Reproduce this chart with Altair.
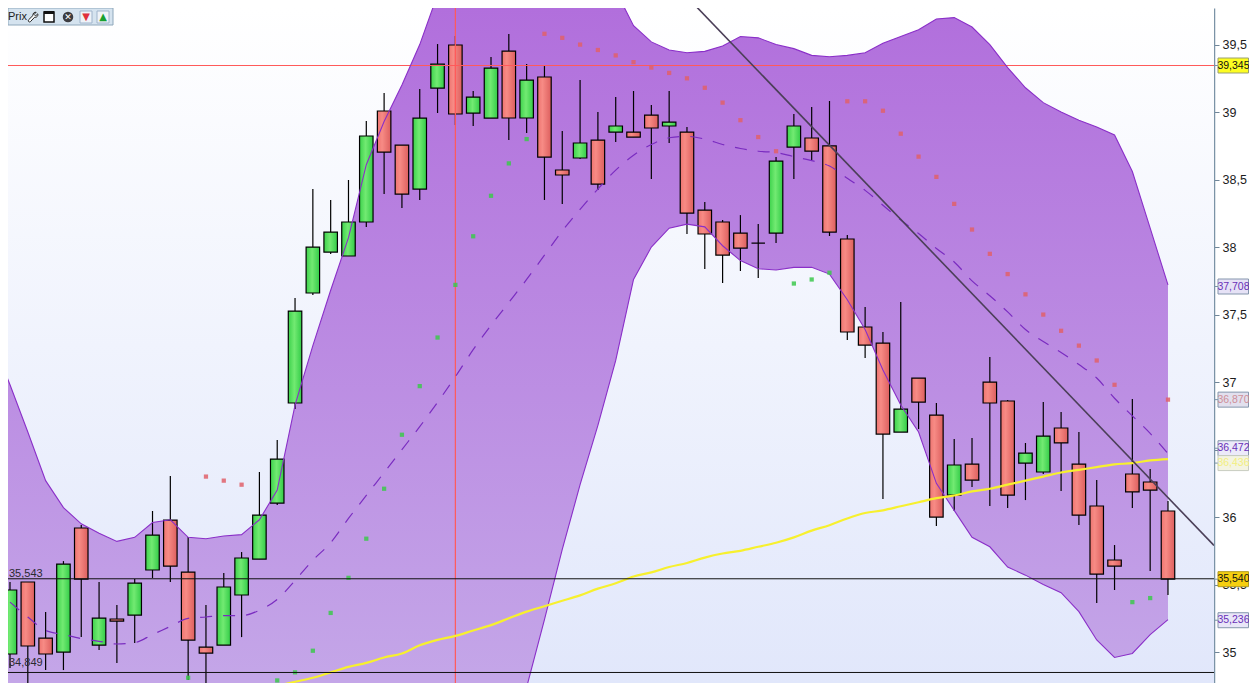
import altair as alt
import pandas as pd

# ---------- candles (66 sessions) ----------
opens = [34.986,35.519,35.104,35.000,35.919,35.052,35.245,35.274,35.608,35.978,35.593,35.037,35.052,35.423,35.689,36.104,36.845,37.660,37.963,37.934,38.186,39.008,38.756,38.430,39.178,39.497,38.993,38.956,39.452,38.956,39.260,38.571,38.660,38.793,38.852,38.852,38.978,38.897,38.852,38.274,38.186,38.104,38.030,38.104,38.741,38.808,38.749,38.060,37.408,37.289,36.630,37.030,36.756,36.163,36.393,37.000,36.860,36.400,36.334,36.660,36.393,36.082,35.682,36.319,36.260,36.045]
closes = [35.460,35.045,34.986,35.652,35.541,35.252,35.230,35.511,35.867,35.637,35.089,34.993,35.482,35.697,36.015,36.430,37.526,38.000,38.111,38.186,38.823,38.704,38.393,38.956,39.356,38.986,39.111,39.326,38.956,39.237,38.667,38.534,38.771,38.467,38.897,38.815,38.882,38.926,38.252,38.097,37.941,37.993,38.030,38.637,38.897,38.711,38.111,37.371,37.274,36.615,36.800,36.852,36.000,36.386,36.274,36.845,36.163,36.474,36.600,36.549,36.015,35.578,35.637,36.186,36.200,35.541]
highs = [35.519,35.519,35.297,35.674,35.941,35.519,35.349,35.541,36.045,36.304,35.852,35.349,35.586,35.741,36.334,36.571,37.623,38.430,38.349,38.497,38.934,39.141,38.756,39.171,39.504,39.563,39.156,39.408,39.578,39.356,39.341,38.860,39.237,39.000,39.111,39.156,39.052,39.156,38.889,38.334,38.200,38.237,38.171,38.667,38.986,39.037,39.082,38.089,37.556,37.371,37.593,37.030,36.845,36.578,36.586,37.186,36.867,36.549,36.852,36.778,36.630,36.274,35.793,36.874,36.356,36.119]
lows = [34.882,34.719,34.867,34.867,35.111,35.015,34.919,35.067,35.549,35.519,34.793,34.682,35.052,35.111,35.689,36.089,36.800,37.645,37.949,37.934,38.149,38.393,38.289,38.349,38.993,38.904,38.897,38.956,38.793,38.845,38.349,38.319,38.652,38.423,38.778,38.815,38.504,38.771,38.097,37.837,37.734,37.823,37.771,38.030,38.504,38.645,38.082,37.311,37.178,36.134,36.630,36.652,35.934,36.045,36.223,36.082,36.067,36.126,36.319,36.193,35.941,35.363,35.460,36.067,35.600,35.423]

# ---------- Bollinger bands, from session -1 to 65 ----------
upper = [37.31,36.98,36.63,36.27,36.07,35.95,35.88,35.82,35.85,35.96,35.98,35.85,35.84,35.86,35.87,35.98,36.20,36.83,37.27,37.68,38.07,38.61,38.93,39.20,39.50,39.87,40.27,40.50,40.64,40.72,40.72,40.64,40.53,40.35,40.13,39.90,39.64,39.52,39.46,39.44,39.45,39.49,39.56,39.55,39.50,39.47,39.42,39.41,39.42,39.44,39.51,39.56,39.61,39.69,39.70,39.63,39.50,39.33,39.18,39.07,39.00,38.94,38.89,38.83,38.56,38.14,37.72]
lower = [34.40,34.42,34.44,34.45,34.43,34.40,34.38,34.36,34.38,34.40,34.42,34.40,34.38,34.35,34.32,34.30,34.25,34.20,34.00,33.80,33.60,33.50,33.40,33.40,33.50,33.60,33.70,33.80,34.00,34.30,34.74,35.24,35.76,36.24,36.68,37.16,37.76,38.00,38.14,38.17,38.15,38.01,37.90,37.84,37.83,37.85,37.85,37.80,37.61,37.39,37.09,36.83,36.63,36.25,36.05,35.85,35.78,35.63,35.57,35.50,35.44,35.30,35.09,34.96,34.99,35.13,35.24]
middle = [35.37,35.26,35.16,35.13,35.10,35.08,35.06,35.07,35.13,35.19,35.25,35.26,35.27,35.27,35.31,35.39,35.53,35.68,35.81,35.99,36.16,36.33,36.50,36.67,36.85,37.04,37.24,37.42,37.59,37.76,37.94,38.12,38.28,38.43,38.57,38.68,38.76,38.81,38.82,38.80,38.76,38.73,38.71,38.70,38.67,38.64,38.60,38.51,38.42,38.31,38.20,38.10,37.99,37.89,37.75,37.64,37.52,37.39,37.30,37.22,37.13,37.03,36.88,36.75,36.62,36.47]

# ---------- long moving average, from session 15 to 65 ----------
ma_long = [34.75,34.78,34.81,34.85,34.89,34.92,34.96,34.99,35.05,35.09,35.12,35.16,35.20,35.25,35.30,35.34,35.38,35.42,35.47,35.51,35.56,35.59,35.63,35.66,35.70,35.73,35.75,35.78,35.81,35.85,35.90,35.94,35.99,36.03,36.05,36.08,36.11,36.14,36.16,36.19,36.21,36.24,36.27,36.30,36.33,36.35,36.37,36.39,36.40,36.42,36.43]

# ---------- parabolic SAR ----------
sar_red_i = [11,12,13,30,31,32,33,34,35,36,37,38,39,40,41,42,43,47,48,49,50,51,52,53,54,55,56,57,58,59,60,61,62,65]
sar_red_v = [36.30,36.27,36.24,39.58,39.55,39.50,39.46,39.42,39.37,39.33,39.29,39.25,39.18,39.07,38.94,38.815,38.71,39.08,39.08,39.01,38.84,38.67,38.52,38.32,38.13,37.95,37.80,37.65,37.50,37.38,37.27,37.16,36.98,36.87]
sar_green_i = [10,15,16,17,18,19,20,21,22,23,24,25,26,27,28,29,44,45,46,63,64]
sar_green_v = [34.81,34.79,34.85,35.01,35.29,35.55,35.84,36.21,36.61,36.97,37.33,37.72,38.08,38.38,38.62,38.80,37.73,37.76,37.81,35.37,35.40]

# ---------- trend line, levels, cursor, tags ----------
trend_i = [38.17, 67.58]
trend_v = [39.83, 35.79]
levels = [35.543, 34.849]
level_labels = ["35,543", "34,849"]
level_label_pos = [35.58, 34.92]
cursor_price = [39.345]
cursor_session = [25]
axis_ticks = [35, 35.5, 36, 36.5, 37, 37.5, 38, 38.5, 39, 39.5]
tag_text = ["39,345", "37,708", "36,870", "36,472", "36,436", "35,540", "35,236"]
tag_pos = [39.345, 37.708, 36.870, 36.51, 36.40, 35.540, 35.236]
tag_fill = ["#fdfd22", "#e6e2f6", "#e2e0ee", "#eceaf9", "#f4f4e2", "#f6cf10", "#e9e6f8"]
tag_stroke = ["#9aa070", "#8596ad", "#8596ad", "#8596ad", "#c8ccc0", "#b09a20", "#8596ad"]
tag_color = ["#111111", "#6a30b8", "#cf8f98", "#6a30b8", "#f3ef80", "#111111", "#6a30b8"]

W, H = 1206, 675
X_DOM = [-0.112, 67.583]
Y_DOM = [34.771, 39.771]
xs = alt.Scale(domain=X_DOM, nice=False, zero=False, padding=0)
ys = alt.Scale(domain=Y_DOM, nice=False, zero=False, padding=0)
FONT = "Liberation Sans"

AX = alt.Axis(
    orient="right", values=axis_ticks, title=None, grid=False,
    labelExpr="datum.value === 36.5 ? '' : replace(replace(format(datum.value, '.1f'), '.0', ''), '.', ',')",
    labelFont=FONT, labelFontSize=12.5, labelColor="#1c1c1c", labelPadding=3,
    tickColor="#6f8598", tickSize=5, tickWidth=1, domainColor="#7b93a6", domainWidth=1.5)


def X(f="i"):
    return alt.X(f"{f}:Q", scale=xs, axis=None)


def Y(f="v"):
    return alt.Y(f"{f}:Q", scale=ys, axis=AX)


def grad_v(stops):
    return alt.Gradient(gradient="linear", x1=0, x2=0, y1=0, y2=1,
                        stops=[alt.GradientStop(offset=o, color=c) for o, c in stops])


def grad_h(stops):
    return alt.Gradient(gradient="linear", x1=0, x2=1, y1=0, y2=0,
                        stops=[alt.GradientStop(offset=o, color=c) for o, c in stops])


candles = pd.DataFrame({"i": range(66), "o": opens, "h": highs, "l": lows, "c": closes})
candles["top"] = candles[["o", "c"]].max(axis=1)
candles["bot"] = candles[["o", "c"]].min(axis=1)
up = candles[candles.c >= candles.o]
down = candles[candles.c < candles.o]
band = pd.DataFrame({"i": range(-1, 66), "u": upper, "l": lower})
mid = pd.DataFrame({"i": range(66), "v": middle})
ma = pd.DataFrame({"i": range(15, 66), "v": ma_long})
sar_r = pd.DataFrame({"i": sar_red_i, "v": sar_red_v})
sar_g = pd.DataFrame({"i": sar_green_i, "v": sar_green_v})
trend = pd.DataFrame({"i": trend_i, "v": trend_v})
lev = pd.DataFrame({"v": levels})
lev_txt = pd.DataFrame({"v": level_label_pos, "t": level_labels})
tags = pd.DataFrame({"v": tag_pos, "t": tag_text, "f": tag_fill, "s": tag_stroke, "c": tag_color})
one = pd.DataFrame({"a": [0]})

# background of the plot
bg = alt.Chart(pd.DataFrame({"a": [X_DOM[0]], "b": [X_DOM[1]], "c": [Y_DOM[0]], "d": [Y_DOM[1]]})).mark_rect(
    color=grad_v([(0, "#ffffff"), (0.5, "#f0f3fd"), (1, "#e1e7fb")])
).encode(x=X("a"), x2="b:Q", y=Y("c"), y2="d:Q")

band_fill = alt.Chart(band).mark_area(
    clip=True, color=grad_v([(0.12, "#b16edc"), (0.81, "#c4a6e8")])
).encode(x=X(), y=Y("u"), y2="l:Q")

wicks = alt.Chart(candles).mark_rule(color="#000000", strokeWidth=1.2, clip=True).encode(x=X(), y=Y("l"), y2="h:Q")

body_up = alt.Chart(up).mark_bar(
    size=13.5, orient="vertical", clip=True, stroke="#000000", strokeWidth=1.2,
    color=grad_h([(0, "#3dd24c"), (0.45, "#72ea72"), (1, "#33cc48")])
).encode(x=X(), y=Y("top"), y2="bot:Q")

body_down = alt.Chart(down).mark_bar(
    size=13.5, orient="vertical", clip=True, stroke="#000000", strokeWidth=1.2,
    color=grad_h([(0, "#ee7470"), (0.35, "#f78b85"), (1, "#dd5f5e")])
).encode(x=X(), y=Y("top"), y2="bot:Q")

band_u = alt.Chart(band).mark_line(color="#8a2fc8", strokeWidth=1.1, clip=True).encode(x=X(), y=Y("u"))
band_l = alt.Chart(band).mark_line(color="#8a2fc8", strokeWidth=1.1, clip=True).encode(x=X(), y=Y("l"))
mid_line = alt.Chart(mid).mark_line(color="#7a2cc0", strokeWidth=1.2, strokeDash=[12, 11], clip=True, interpolate="monotone").encode(x=X(), y=Y())
ma_line = alt.Chart(ma).mark_line(color="#f7f02e", strokeWidth=2.2, clip=True, interpolate="monotone").encode(x=X(), y=Y())

dots_r = alt.Chart(sar_r).mark_square(size=18, color="#e0606a", opacity=0.85, clip=True).encode(x=X(), y=Y())
dots_g = alt.Chart(sar_g).mark_square(size=18, color="#3cc84c", opacity=0.85, clip=True).encode(x=X(), y=Y())

level_rules = alt.Chart(lev).mark_rule(color="#111111", strokeWidth=1).encode(y=Y())
trend_line = alt.Chart(trend).mark_line(color="#4b3f58", strokeWidth=1.6, clip=True).encode(x=X(), y=Y())
cursor_h = alt.Chart(pd.DataFrame({"v": cursor_price})).mark_rule(stroke="#ff5a5a", strokeWidth=1.2).encode(y=Y())
cursor_v = alt.Chart(pd.DataFrame({"i": cursor_session})).mark_rule(stroke="#ff5a5a", strokeWidth=1.2).encode(x=X())
level_text = alt.Chart(lev_txt).mark_text(align="left", baseline="middle", font=FONT, fontSize=11, color="#2a2a30").encode(
    x=alt.value(1), y=Y(), text="t:N")

# price tags in the right gutter
tag_ticks = alt.Chart(tags).mark_rule(color="#7b93a6", strokeWidth=1).encode(x=alt.value(W), x2=alt.value(W + 5), y=Y())
tag_box = alt.Chart(tags).mark_rect(height=15, strokeWidth=1).encode(
    x=alt.value(W + 4), x2=alt.value(W + 34.5), y=Y(),
    fill=alt.Fill("f:N", scale=None), stroke=alt.Stroke("s:N", scale=None))
tag_label = alt.Chart(tags).mark_text(align="center", baseline="middle", font=FONT, fontSize=10.5).encode(
    x=alt.value(W + 19.5), y=Y(), text="t:N", color=alt.Color("c:N", scale=None))

# toolbar
tb_box = alt.Chart(one).mark_rect(color="#d5e3ef", stroke="#8ea7bb", strokeWidth=1).encode(
    x=alt.value(0), x2=alt.value(105), y=alt.value(0), y2=alt.value(17))
tb_text = alt.Chart(one).mark_text(align="left", baseline="middle", font=FONT, fontSize=11, color="#222222").encode(
    x=alt.value(0), y=alt.value(9), text=alt.value("Prix"))
WRENCH = "M0.9,-0.6 L0.5,-0.2 L0.2,-0.5 L0.6,-0.9 A0.5,0.5 0 0 0 0,-0.3 L-0.85,0.55 A0.25,0.25 0 0 0 -0.5,0.9 L0.3,0.05 A0.5,0.5 0 0 0 0.9,-0.6 Z"
tb_wrench = alt.Chart(one).mark_point(shape=WRENCH, size=110, filled=True, fill="#ffffff", stroke="#222222", strokeWidth=1, opacity=1).encode(
    x=alt.value(25), y=alt.value(9))
tb_win = alt.Chart(one).mark_rect(fill="#ffffff", stroke="#111111", strokeWidth=1.5).encode(
    x=alt.value(36), x2=alt.value(46), y=alt.value(4), y2=alt.value(14))
tb_win_top = alt.Chart(one).mark_rect(fill="#111111").encode(
    x=alt.value(36), x2=alt.value(46), y=alt.value(3), y2=alt.value(6))
tb_x = alt.Chart(one).mark_circle(size=110, color="#3c3c40", opacity=1).encode(x=alt.value(60), y=alt.value(9))
tb_x_t = alt.Chart(one).mark_text(font="DejaVu Sans", fontSize=9, fontWeight="bold", color="#ffffff", baseline="middle").encode(
    x=alt.value(60), y=alt.value(9), text=alt.value("✕"))
tb_dn = alt.Chart(one).mark_rect(fill="#eef2f8", stroke="#9fb4cc").encode(
    x=alt.value(72), x2=alt.value(84), y=alt.value(3), y2=alt.value(15))
tb_dn_t = alt.Chart(one).mark_text(font="DejaVu Sans", fontSize=10, color="#e0303c", baseline="middle").encode(
    x=alt.value(78), y=alt.value(9), text=alt.value("▼"))
tb_up = alt.Chart(one).mark_rect(fill="#eef2f8", stroke="#9fb4cc").encode(
    x=alt.value(89), x2=alt.value(101), y=alt.value(3), y2=alt.value(15))
tb_up_t = alt.Chart(one).mark_text(font="DejaVu Sans", fontSize=10, color="#18a030", baseline="middle").encode(
    x=alt.value(95), y=alt.value(9), text=alt.value("▲"))

chart = alt.layer(
    bg, band_fill, wicks, body_up, body_down, cursor_h, cursor_v, band_u, band_l, mid_line, ma_line,
    dots_r, dots_g, level_rules, trend_line, level_text,
    tag_ticks, tag_box, tag_label,
    tb_box, tb_text, tb_wrench, tb_win, tb_win_top, tb_x, tb_x_t, tb_dn, tb_dn_t, tb_up, tb_up_t,
).properties(
    width=W, height=H,
    autosize=alt.AutoSizeParams(type="none"),
    padding={"left": 0, "top": 0, "right": 35, "bottom": 0},
    background="#ffffff",
).configure_view(stroke=None)

chart.save("out.html", embed_options={"renderer": "svg", "actions": False})
